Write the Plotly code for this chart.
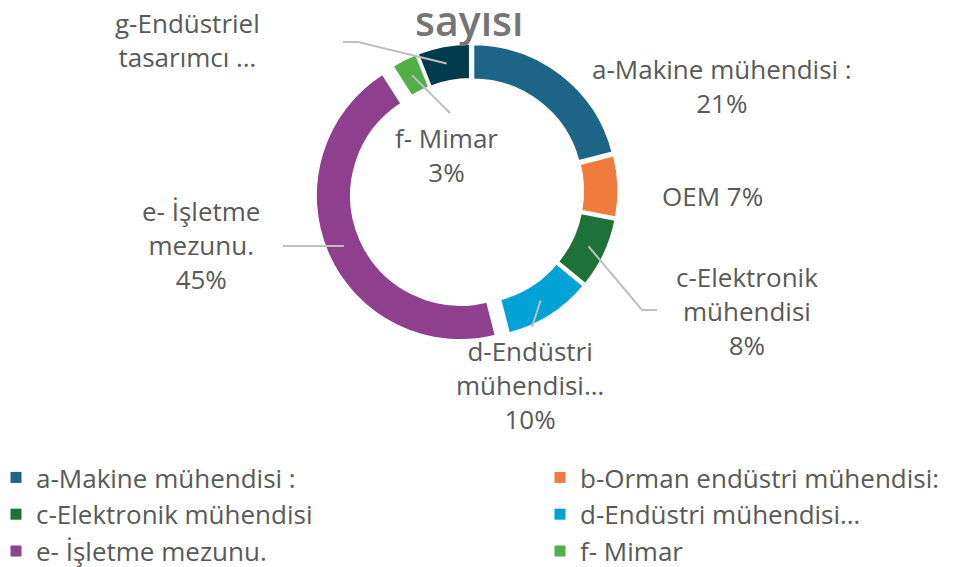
import numpy as np
import plotly.graph_objects as go

# ---------------- data ----------------
legend_labels = [
    "a-Makine mühendisi :",
    "b-Orman endüstri mühendisi:",
    "c-Elektronik mühendisi",
    "d-Endüstri mühendisi…",
    "e- İşletme mezunu.",
    "f- Mimar",
    "g-Endüstriel tasarımcı …",
]
slice_names = [
    "a-Makine mühendisi :",
    "OEM",
    "c-Elektronik<br>mühendisi",
    "d-Endüstri<br>mühendisi…",
    "e- İşletme<br>mezunu.",
    "f- Mimar",
    "g-Endüstriel<br>tasarımcı …",
]
values = [21, 7, 8, 10, 45, 3, 6]
title_text = "sayısı"

# ---------------- style / layout ----------------
colors = ["#1C6586", "#EF7B3E", "#1E7138", "#03A2D6", "#8E3F8E", "#51AF48", "#033B4E"]
pulls = [0.02, 0.02, 0.02, 0.02, 0.08, 0.02, 0.02]
label_sep = ["<br>", " ", "<br>", "<br>", "<br>", "<br>", None]  # None -> no percent shown
label_pos = [(722, 86), (712, 196), (747, 311), (530, 385), (201, 245), (446, 155), (187, 40)]
# leader-line extra points (px) after the slice anchor, per slice (None = no line)
leader_pts = [None, None, [(642, 310), (657, 310)], [(532, 327)], [(283, None)],
              [(450, 113)], [(358, 42), (343, 42)]]

W, H = 965, 567
OFF = 8            # page body margin offset of the plot div
CX, CY, R = 471, 191, 145
HOLE = 0.75
TXT = "#595959"
FONT = "Open Sans"
FS = 26


def px2paper(x, y):
    return (x - OFF) / W, 1 - (y - OFF) / H


half = R * (1 + max(pulls))
x0, y0 = px2paper(CX - half, CY + half)
x1, y1 = px2paper(CX + half, CY - half)

fig = go.Figure()
fig.add_trace(go.Pie(
    labels=legend_labels,
    values=values,
    sort=False,
    direction="clockwise",
    rotation=0,
    hole=HOLE,
    pull=pulls,
    marker=dict(colors=colors, line=dict(color="white", width=3)),
    textinfo="none",
    domain=dict(x=[x0, x1], y=[y0, y1]),
    hoverinfo="label+percent",
    showlegend=False,
))

# legend entries (two columns, like the original)
for i, (lab, col) in enumerate(zip(legend_labels, colors)):
    fig.add_trace(go.Scatter(
        x=[None], y=[None], mode="markers", name=lab,
        marker=dict(symbol="square", size=11, color=col),
        legend="legend" if i % 2 == 0 else "legend2",
        legendgroup=lab, showlegend=True, hoverinfo="skip",
    ))

total = float(sum(values))
cum = 0.0
annotations = []
shapes = []
for i, v in enumerate(values):
    mid = (cum + v / 2) / total * 2 * np.pi
    cum += v
    rr = R * (1 + HOLE) / 2 + pulls[i] * R
    ax_px = CX + rr * np.sin(mid)
    ay_px = CY - rr * np.cos(mid)
    pct = f"{round(v / total * 100)}%"
    sep = label_sep[i]
    txt = slice_names[i] if sep is None else slice_names[i] + sep + pct
    lx, ly = px2paper(*label_pos[i])
    annotations.append(dict(x=lx, y=ly, xref="paper", yref="paper", text=txt,
                            showarrow=False, font=dict(size=FS, color=TXT, family=FONT),
                            align="center", xanchor="center", yanchor="middle"))
    if leader_pts[i] is not None:
        pts = [(ax_px, ay_px)]
        for (px, py) in leader_pts[i]:
            pts.append((px, ay_px if py is None else py))
        path = ""
        for k, (px, py) in enumerate(pts):
            X, Y = px2paper(px, py)
            path += ("M" if k == 0 else "L") + f"{X:.5f},{Y:.5f} "
        shapes.append(dict(type="path", path=path.strip(), xref="paper", yref="paper",
                           line=dict(color="#BFBFBF", width=2)))

tx, ty = px2paper(469, 20)
annotations.append(dict(x=tx, y=ty, xref="paper", yref="paper", text=title_text,
                        showarrow=False, xanchor="center", yanchor="middle",
                        font=dict(size=41, color="#757575", family=FONT, weight=600)))

lg1x, lgy = px2paper(17 - 29 + 8, 454)
lg2x, _ = px2paper(561 - 29 + 8, 454)
legend_common = dict(orientation="v", xanchor="left", yanchor="top",
                     font=dict(size=FS, color=TXT, family=FONT),
                     traceorder="normal", tracegroupgap=3, bgcolor="rgba(0,0,0,0)")

fig.update_layout(
    width=W, height=H,
    margin=dict(l=0, r=0, t=0, b=0, autoexpand=False),
    paper_bgcolor="white",
    plot_bgcolor="white",
    xaxis=dict(visible=False),
    yaxis=dict(visible=False),
    showlegend=True,
    legend=dict(x=lg1x, y=lgy, **legend_common),
    legend2=dict(x=lg2x, y=lgy, **legend_common),
    annotations=annotations,
    shapes=shapes,
)

fig.write_html("out.html")
